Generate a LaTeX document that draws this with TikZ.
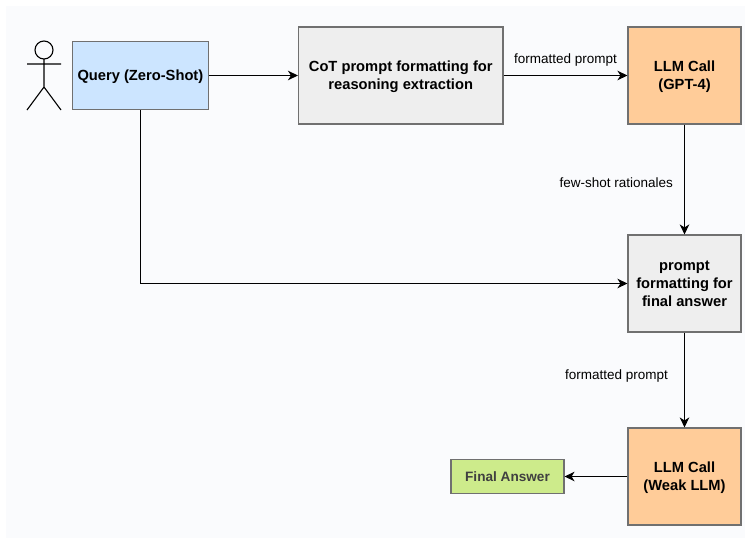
\documentclass[tikz,border=0pt]{standalone}
\usepackage{fontspec}
\setmainfont{Liberation Sans}
\usetikzlibrary{arrows.meta,positioning}
\definecolor{panel}{HTML}{FAFBFD}
\definecolor{edge}{HTML}{707070}
\definecolor{bluefill}{HTML}{CCE5FF}
\definecolor{grayfill}{HTML}{EEEEEE}
\definecolor{orangefill}{HTML}{FFCC99}
\definecolor{greenfill}{HTML}{CDEB8B}
\newcommand{\dn}[1]{\raisebox{-1.6pt}[\height][\depth]{#1}}
\tikzset{
  x=1pt,y=-1pt,
  boxnode/.style={draw=edge,line width=1.1pt,align=center,inner sep=0pt,font=\fontsize{14.7}{18}\selectfont\bfseries},
  conn/.style={draw=black,line width=1.1pt,-{Stealth[length=10pt,width=9.5pt,inset=3pt]}},
  lab/.style={font=\fontsize{13.5}{16}\selectfont,inner sep=0pt},
  stick/.style={draw=black,line width=1.1pt},
}
\begin{document}
\begin{tikzpicture}
\useasboundingbox (0,0) rectangle (751,538);
\fill[white] (0,0) rectangle (751,538);
\fill[panel] (6,6) rectangle (745,538);
% actor
\draw[stick] (44,50) circle (9);
\draw[stick] (44,59) -- (44,87) (27,64) -- (61,64) (27,110) -- (44,87) -- (61,110);
% boxes
\node[boxnode,fill=bluefill,minimum width=136,minimum height=68.5] (query) at (140.4,75.5) {\dn{Query (Zero-Shot)}};
\node[boxnode,fill=grayfill,minimum width=204.5,minimum height=97] (cot) at (400.75,75.5) {\dn{CoT prompt formatting for}\\\dn{reasoning extraction}};
\node[boxnode,fill=orangefill,minimum width=113,minimum height=97] (gpt) at (684.5,75.5) {\dn{LLM Call}\\\dn{(GPT-4)}};
\node[boxnode,fill=grayfill,minimum width=113,minimum height=97] (fmt) at (684.5,283.5) {prompt\\formatting for\\final answer};
\node[boxnode,fill=orangefill,minimum width=113,minimum height=97] (weak) at (684.5,476.5) {\dn{LLM Call}\\\dn{(Weak LLM)}};
\node[boxnode,fill=greenfill,text=black!75,minimum width=113,minimum height=34,font=\fontsize{13.6}{16}\selectfont\bfseries] (final) at (507.5,476.5) {Final Answer};
% connectors
\draw[conn] (query.east) -- (cot.west);
\draw[conn] (cot.east) -- node[lab,above=9pt,pos=0.5] {formatted prompt} (gpt.west);
\draw[conn] (gpt.south) -- node[lab,left=11pt,pos=0.53] {few-shot rationales} (fmt.north);
\draw[conn] (query.south) |- (fmt.west);
\draw[conn] (fmt.south) -- node[lab,left=16pt,pos=0.46] {formatted prompt} (weak.north);
\draw[conn] (weak.west) -- (final.east);
\end{tikzpicture}
\end{document}
